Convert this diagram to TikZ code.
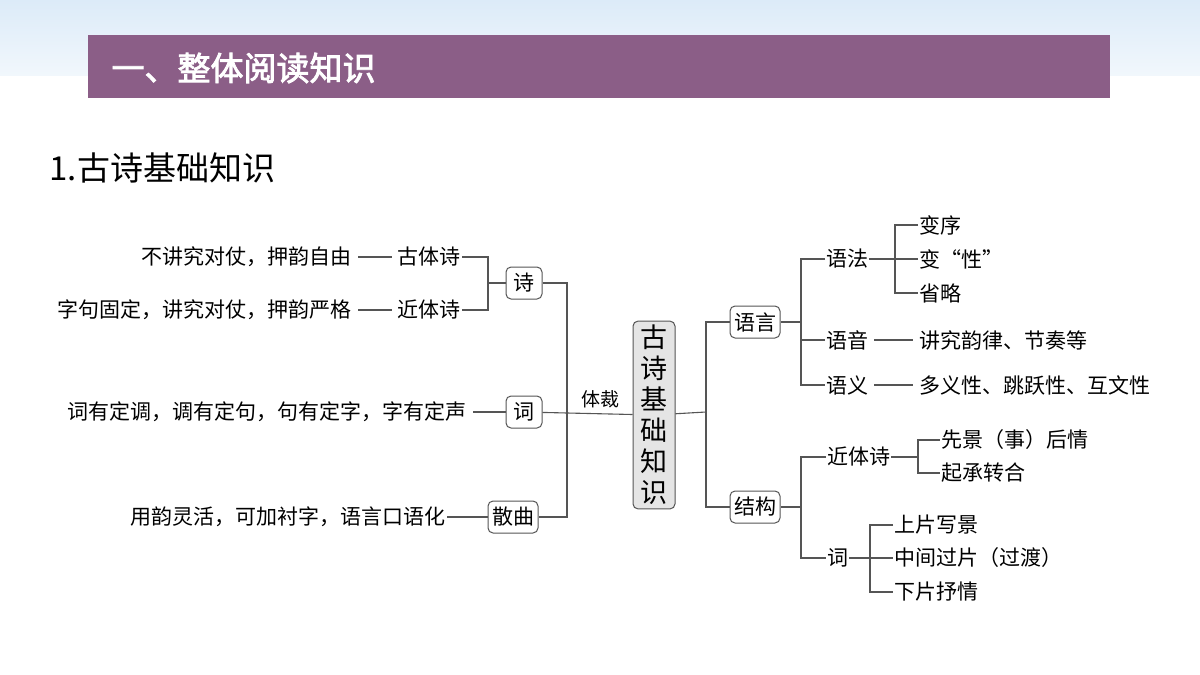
\documentclass[tikz,border=0pt]{standalone}
\usepackage{fontspec}
\setmainfont{Noto Sans CJK SC}
\newfontfamily\cjkbold[FakeBold=2.5]{Noto Sans CJK SC}
\usetikzlibrary{positioning}
\definecolor{banner}{HTML}{8B5E87}
\definecolor{sky}{HTML}{DCEBF8}
\definecolor{linegray}{HTML}{555555}
\begin{document}
\begin{tikzpicture}[x=1pt,y=-1pt,
  box/.style={draw=linegray,line width=1pt,rounded corners=5pt,font=\fontsize{21}{21}\selectfont,inner sep=4pt,minimum height=32pt,minimum width=36pt},
  leaf/.style={font=\fontsize{21}{21}\selectfont,inner sep=1pt},
  conn/.style={draw=linegray,line width=1.1pt},
  gapline/.style={conn,shorten <=5pt,shorten >=5pt}]

% background
\useasboundingbox (0,0) rectangle (1200,675);
\fill[white] (0,0) rectangle (1200,675);
\shade[top color=sky,bottom color=sky!40] (0,0) rectangle (1200,75);
\fill[banner] (88,35) rectangle (1110,98);
\node[anchor=west,text=white,font=\cjkbold\fontsize{33}{33}\selectfont] (title) at (108,68) {一、整体阅读知识};
\node[anchor=west,font=\fontsize{33}{33}\selectfont] (sub) at (46,168) {1.古诗基础知识};

% centre
\node[box,fill=gray!20,minimum width=42pt,minimum height=184pt,font=\fontsize{27}{31}\selectfont,align=center] (root) at (654,415) {古\\诗\\基\\础\\知\\识};

% left side
\node[box] (shi) at (524,283) {诗};
\node[box] (ci) at (524,412) {词};
\node[box] (sanqu) at (513,517) {散曲};
\node[leaf,anchor=east] (guti) at (462,257) {古体诗};
\node[leaf,anchor=east] (guti-d) at (353,257) {不讲究对仗，押韵自由};
\node[leaf,anchor=east] (jinti) at (462,310) {近体诗};
\node[leaf,anchor=east] (jinti-d) at (353,310) {字句固定，讲究对仗，押韵严格};
\node[leaf,anchor=east] (ci-d) at (468,412) {词有定调，调有定句，句有定字，字有定声};
\node[leaf,anchor=east] (sanqu-d) at (447,517) {用韵灵活，可加衬字，语言口语化};
\node[font=\fontsize{19}{19}\selectfont] (ticai) at (600,399) {体裁};

\draw[gapline] (guti-d) -- (guti);
\draw[gapline] (jinti-d) -- (jinti);
\draw[conn,shorten <=5pt] (ci-d) -- (ci);
\draw[conn] (sanqu-d) -- (sanqu);
\draw[conn] (guti) -| (488,283) |- (jinti);
\draw[conn] (488,283) -- (shi);
\draw[conn] (shi) -| (567,412) |- (sanqu);
\draw[conn] (ci) -- (root);

% right side
\node[box] (yuyan) at (755,322) {语言};
\node[box] (jiegou) at (755,507) {结构};
\draw[conn] (root) -- (706,412);
\draw[conn] (yuyan) -| (706,412) |- (jiegou);

\node[leaf,anchor=west] (yufa) at (825,259) {语法};
\node[leaf,anchor=west] (yuyin) at (825,340) {语音};
\node[leaf,anchor=west] (yuyi) at (825,385) {语义};
\draw[conn] (yufa) -| (801,322) |- (yuyi);
\draw[conn] (801,322) -- (yuyan);
\draw[conn] (801,340) -- (yuyin);

\node[leaf,anchor=west] (bianxu) at (918,225) {变序};
\node[leaf,anchor=west] (bianxing) at (918,259) {变“性”};
\node[leaf,anchor=west] (shenglue) at (918,293) {省略};
\draw[conn] (bianxu) -| (895,259) |- (shenglue);
\draw[conn] (yufa) -- (bianxing);

\node[leaf,anchor=west] (yunlv) at (918,340) {讲究韵律、节奏等};
\node[leaf,anchor=west] (duoyi) at (918,385) {多义性、跳跃性、互文性};
\draw[gapline] (yuyin) -- (yunlv);
\draw[gapline] (yuyi) -- (duoyi);

\node[leaf,anchor=west] (jinti2) at (826,457) {近体诗};
\node[leaf,anchor=west] (ci2) at (826,558) {词};
\draw[conn] (jinti2) -| (801,507) |- (ci2);
\draw[conn] (801,507) -- (jiegou);

\node[leaf,anchor=west] (xianjing) at (940,440) {先景（事）后情};
\node[leaf,anchor=west] (qicheng) at (940,473) {起承转合};
\draw[conn] (xianjing) -| (918,473) -- (qicheng);
\draw[conn] (jinti2) -- (918,457);

\node[leaf,anchor=west] (shangpian) at (893,525) {上片写景};
\node[leaf,anchor=west] (zhongjian) at (893,558) {中间过片（过渡）};
\node[leaf,anchor=west] (xiapian) at (893,592) {下片抒情};
\draw[conn] (shangpian) -| (870,558) |- (xiapian);
\draw[conn] (ci2) -- (zhongjian);
\end{tikzpicture}
\end{document}
